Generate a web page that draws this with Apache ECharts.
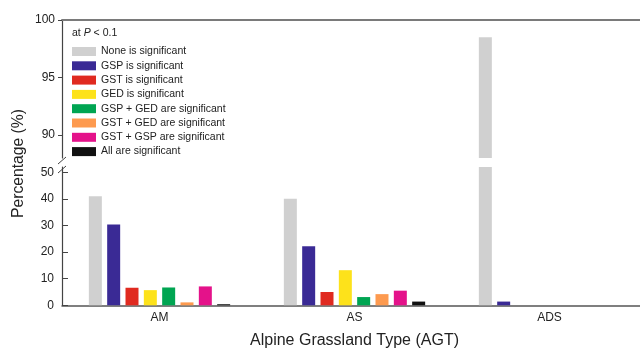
<!DOCTYPE html>
<html><head><meta charset="utf-8">
<script src="https://cdn.jsdelivr.net/npm/echarts@6/dist/echarts.min.js"></script>
<style>html,body{margin:0;padding:0;background:#fff}#c{width:640px;height:348px}</style>
</head><body><div id="c"></div>
<script>
var categories = ['AM', 'AS', 'ADS'];
var seriesNames = ['None is significant','GSP is significant','GST is significant','GED is significant','GSP + GED are significant','GST + GED are significant','GST + GSP are significant','All are significant'];
var noneVals   = [41.0, 40.1, 98.5];
var gspVals    = [30.4, 22.2, 1.4];
var gstVals    = [6.6, 5.0, 0];
var gedVals    = [5.7, 13.2, 0];
var gspGedVals = [6.7, 3.1, 0];
var gstGedVals = [1.1, 4.2, 0];
var gstGspVals = [7.1, 5.5, 0];
var allVals    = [0.4, 1.4, 0];
var lowerTicks = [0, 10, 20, 30, 40, 50];
var upperTicks = [90, 95, 100];
var lowerMax = 52, upperMin = 88, upperMax = 100;
var colors = ['#d0d0d0','#3a2a95','#e02a20','#fde21b','#00a552','#fd9a4f','#e4128a','#111111'];
var allData = [noneVals, gspVals, gstVals, gedVals, gspGedVals, gstGedVals, gstGspVals, allVals];

var FONT = 'Liberation Sans, Arial, sans-serif';
var series = [];
seriesNames.forEach(function(n, i){
  series.push({name:n, type:'bar', xAxisIndex:1, yAxisIndex:1, data: allData[i],
    barWidth:13, barGap:'41%', itemStyle:{color:colors[i]}, clip:true});
});
seriesNames.forEach(function(n, i){
  series.push({name:n, type:'bar', xAxisIndex:0, yAxisIndex:0,
    data: allData[i].map(function(v){ return v > upperMin ? v : null; }),
    barWidth:13, barGap:'41%', itemStyle:{color:colors[i]}, clip:true});
});

var chart = echarts.init(document.getElementById('c'));
chart.setOption({
  animation:false,
  textStyle:{fontFamily:FONT},
  grid:[
    {left:62, top:20, width:585, height:138, outerBoundsMode:'none', containLabel:false},
    {left:62, top:167, width:585, height:138.3, outerBoundsMode:'none', containLabel:false}
  ],
  title:{text:'{a|at }{i|P}{a| < 0.1}', left:67, top:23,
    textStyle:{rich:{a:{fontSize:10.5,color:'#222',fontFamily:FONT,fontWeight:'normal'}, i:{fontSize:10.5,color:'#222',fontStyle:'italic',fontWeight:'normal',fontFamily:FONT}}}},
  legend:{data:seriesNames, orient:'vertical', left:67, top:41, itemWidth:24, itemHeight:9, itemGap:3.3,
    icon:'rect', textStyle:{fontSize:10.5, color:'#222', fontFamily:FONT, lineHeight:9}},
  xAxis:[
    {gridIndex:0, type:'category', data:categories, position:'top',
      axisLine:{lineStyle:{color:'#7a7a7a', width:2}}, axisTick:{show:false}, axisLabel:{show:false}},
    {gridIndex:1, type:'category', data:categories, position:'bottom',
      axisLine:{lineStyle:{color:'#555', width:1.5}},
      axisTick:{inside:true, alignWithLabel:true, length:4, lineStyle:{color:'#444'}},
      axisLabel:{fontSize:12, color:'#222', margin:6},
      name:'Alpine Grassland Type (AGT)', nameLocation:'middle', nameGap:27,
      nameTextStyle:{fontSize:16, color:'#222', fontFamily:FONT}}
  ],
  yAxis:[
    {gridIndex:0, type:'value', min:upperMin, max:upperMax,
      axisLine:{show:true, lineStyle:{color:'#444', width:1.2}},
      axisTick:{show:true, inside:false, length:4, customValues:upperTicks, lineStyle:{color:'#444'}},
      axisLabel:{fontSize:12, color:'#222', margin:7, customValues:upperTicks},
      splitLine:{show:false}},
    {gridIndex:1, type:'value', min:0, max:lowerMax,
      axisLine:{show:true, lineStyle:{color:'#444', width:1.2}},
      axisTick:{show:true, inside:true, length:6, customValues:lowerTicks, lineStyle:{color:'#444'}},
      axisLabel:{fontSize:12, color:'#222', margin:8, customValues:lowerTicks},
      splitLine:{show:false}}
  ],
  graphic:[
    {type:'text', rotation:Math.PI/2, x:11, y:218,
      style:{text:'Percentage (%)', fontSize:15.7, fill:'#222', fontFamily:FONT}},
    {type:'line', shape:{x1:58, y1:164, x2:66, y2:157}, style:{stroke:'#444', lineWidth:1}},
    {type:'line', shape:{x1:58, y1:173, x2:66, y2:166}, style:{stroke:'#444', lineWidth:1}}
  ],
  series:series
});
</script></body></html>
